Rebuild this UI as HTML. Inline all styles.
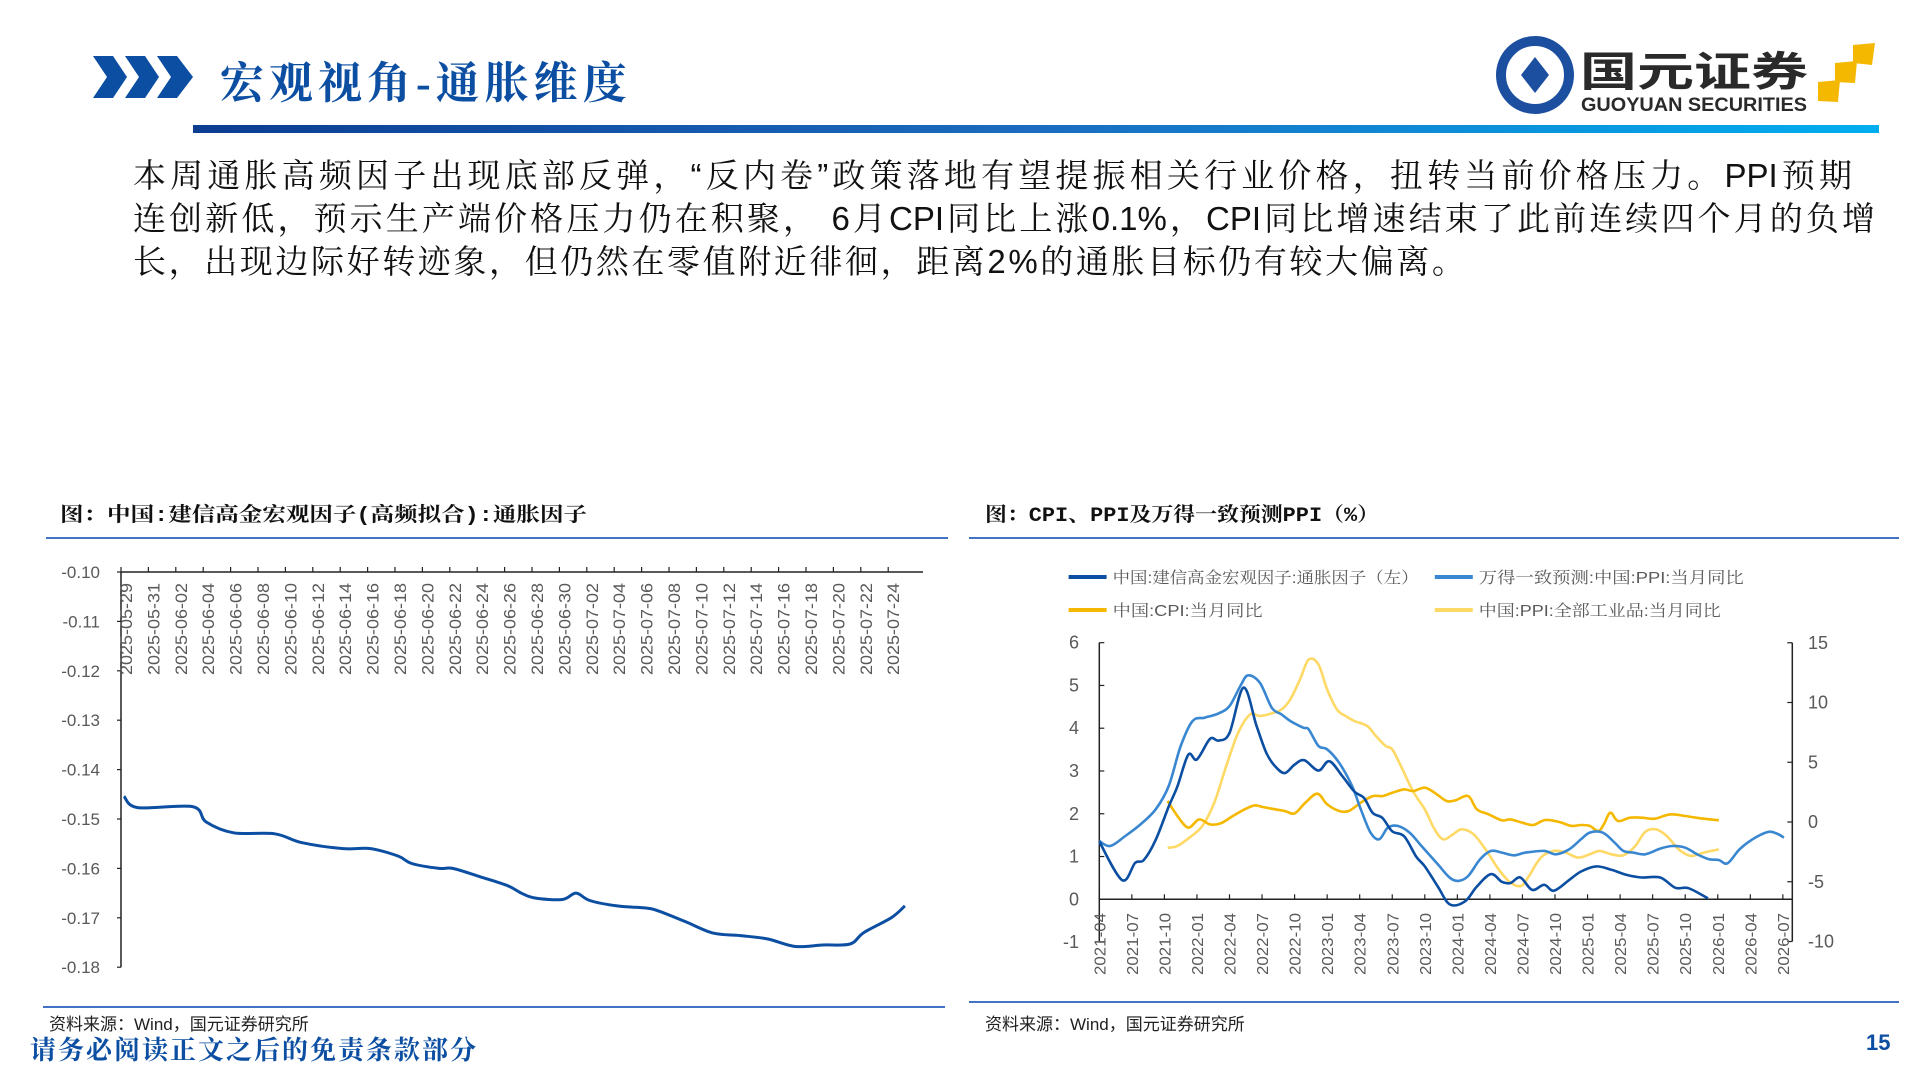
<!DOCTYPE html>
<html><head><meta charset="utf-8">
<style>
body{margin:0;width:1920px;height:1080px;background:#fff;position:relative;overflow:hidden;font-family:"Liberation Sans","Noto Sans CJK SC",sans-serif;}
.abs{position:absolute;}
.para{position:absolute;left:133px;font-family:"Liberation Sans","Noto Serif CJK SC",serif;font-size:33px;color:#111;white-space:nowrap;line-height:43px;}
</style></head><body>
<svg class="abs" style="left:93px;top:56px" width="102" height="42" viewBox="0 0 102 42">
<polygon points="0,0 20,0 34,21 20,42 0,42 14,21" fill="#0b4ea2"/>
<polygon points="32,0 52,0 66,21 52,42 32,42 46,21" fill="#0b4ea2"/>
<polygon points="64,0 84,0 100,21 84,42 64,42 78,21" fill="#0b4ea2"/>
</svg>
<div class="abs" style="left:220px;top:47px;font-size:44px;font-weight:bold;color:#0b4ea2;font-family:'Liberation Serif','Noto Serif CJK SC',serif;letter-spacing:5px">宏观视角-通胀维度</div>
<svg class="abs" style="left:1495px;top:35px" width="390" height="85">
<circle cx="40" cy="40" r="34" fill="none" stroke="#1d4fa0" stroke-width="10"/>
<polygon points="40,22 54,40 40,58 26,40" fill="#1d4fa0"/>
<text x="85" y="51" font-size="41" font-weight="bold" fill="#2a2a2a" font-family="'Noto Sans CJK SC',sans-serif" textLength="228" lengthAdjust="spacingAndGlyphs">国元证券</text>
<text x="86" y="76" font-size="19" font-weight="bold" fill="#2a2a2a" font-family="'Liberation Sans',sans-serif" textLength="226" lengthAdjust="spacingAndGlyphs">GUOYUAN SECURITIES</text>
<polygon points="358,10 380,8 377,30 358,28" fill="#f5b800"/>
<polygon points="340,28 362,26 360,48 340,47" fill="#f5b800"/>
<polygon points="323,47 345,45 343,67 323,66" fill="#f5b800"/>
</svg>
<div class="abs" style="left:193px;top:125px;width:1686px;height:8px;background:linear-gradient(90deg,#0b3d91,#1b6cc0 50%,#00aeef)"></div>

<div class="para" style="top:154px;width:1719px;text-align:justify;text-align-last:justify">本周通胀高频因子出现底部反弹，“反内卷”政策落地有望提振相关行业价格，扭转当前价格压力。PPI预期</div>
<div class="para" style="top:197px;width:1742px;text-align:justify;text-align-last:justify">连创新低，预示生产端价格压力仍在积聚， 6月CPI同比上涨0.1%，CPI同比增速结束了此前连续四个月的负增</div>
<div class="para" style="top:240px;letter-spacing:2.6px">长，出现边际好转迹象，但仍然在零值附近徘徊，距离2%的通胀目标仍有较大偏离。</div>

<svg class="abs" style="left:60px;top:500px" width="560" height="30"><text x="0" y="21" font-size="20" font-weight="bold" fill="#111" font-family="'Liberation Mono','Noto Serif CJK SC',serif" textLength="527" lengthAdjust="spacingAndGlyphs">图：中国:建信高金宏观因子(高频拟合):通胀因子</text></svg>
<div class="abs" style="left:46px;top:537px;width:902px;height:2px;background:#4472c4"></div>
<svg class="abs" style="left:985px;top:500px" width="420" height="30"><text x="0" y="21" font-size="20" font-weight="bold" fill="#111" font-family="'Liberation Mono','Noto Serif CJK SC',serif" textLength="394" lengthAdjust="spacingAndGlyphs">图：CPI、PPI及万得一致预测PPI（%）</text></svg>
<div class="abs" style="left:969px;top:537px;width:930px;height:2px;background:#4472c4"></div>

<div class="abs" style="left:43px;top:1006px;width:902px;height:2px;background:#4472c4"></div>
<div class="abs" style="left:969px;top:1001px;width:930px;height:2px;background:#4472c4"></div>
<div class="abs" style="left:49px;top:1010px;font-size:17px;color:#222">资料来源：Wind，国元证券研究所</div>
<div class="abs" style="left:985px;top:1010px;font-size:17px;color:#222">资料来源：Wind，国元证券研究所</div>
<div class="abs" style="left:30px;top:1030px;font-size:26px;font-weight:bold;color:#0b4ea2;font-family:'Liberation Serif','Noto Serif CJK SC',serif;letter-spacing:2px">请务必阅读正文之后的免责条款部分</div>
<div class="abs" style="left:1866px;top:1030px;font-size:22px;font-weight:bold;color:#0b4ea2">15</div>

<svg id="c1" class="abs" style="left:0;top:0" width="960" height="1000"></svg>
<svg id="c2" class="abs" style="left:960px;top:0" width="960" height="1000"></svg>

<script>
// ---------- Left chart data ----------
const leftDays = [0,1,5,6,8,11,13,16,18,20,21,23,24,26,28,29,30,32,33,34,36,38,39,41,43,45,47,49,51,53,54,56,57];
const leftValues = [-0.1454,-0.1477,-0.1475,-0.1506,-0.1528,-0.1530,-0.1548,-0.1560,-0.1560,-0.1575,-0.1590,-0.1600,-0.1600,-0.1617,-0.1635,-0.1650,-0.1660,-0.1663,-0.1650,-0.1665,-0.1676,-0.1680,-0.1686,-0.1708,-0.1731,-0.1736,-0.1743,-0.1758,-0.1755,-0.1753,-0.1730,-0.1700,-0.1676];
const leftYTicks = [-0.10,-0.11,-0.12,-0.13,-0.14,-0.15,-0.16,-0.17,-0.18];
const leftXLabels = ["2025-05-29","2025-05-31","2025-06-02","2025-06-04","2025-06-06","2025-06-08","2025-06-10","2025-06-12","2025-06-14","2025-06-16","2025-06-18","2025-06-20","2025-06-22","2025-06-24","2025-06-26","2025-06-28","2025-06-30","2025-07-02","2025-07-04","2025-07-06","2025-07-08","2025-07-10","2025-07-12","2025-07-14","2025-07-16","2025-07-18","2025-07-20","2025-07-22","2025-07-24"];

// ---------- Right chart data (month index from 2021-04) ----------
const factorMonths = [0,2.1,3.3,4.1,5.2,6.4,7.2,8.2,9.0,10.2,11.0,12.0,13.3,14.5,15.4,16.2,17.1,18.0,18.9,20.2,21.2,22.4,23.5,24.4,25.2,26.1,27.0,28.1,29.2,30.0,31.2,32.3,33.7,34.8,36.1,37.1,37.9,38.8,39.9,41.0,41.9,43.3,44.4,45.8,47.2,48.6,50.0,51.7,53.1,54.3,56.1];
const factorValues = [1.35,0.45,0.85,0.92,1.39,2.17,2.64,3.38,3.27,3.75,3.71,3.89,4.95,4.05,3.42,3.11,2.95,3.15,3.25,3.01,3.23,2.88,2.52,2.37,2.02,1.90,1.59,1.47,1.00,0.77,0.30,-0.12,-0.05,0.30,0.59,0.41,0.38,0.51,0.22,0.34,0.20,0.45,0.65,0.77,0.69,0.57,0.51,0.51,0.27,0.26,0.02];
const fcstMonths = [0,1.0,2.4,3.8,5.2,6.4,7.5,8.6,9.7,11.0,12.0,13.0,13.7,14.8,15.9,16.8,17.6,18.8,19.3,20.2,21.0,22.1,23.3,24.1,25.0,25.8,26.6,27.5,28.6,29.7,31.2,32.3,33.1,34.0,35.1,36.1,37.1,38.2,39.3,41.0,42.1,43.3,44.4,45.2,46.4,47.5,48.3,49.2,50.3,51.7,52.8,54.0,55.1,56.2,57.1,57.9,59.0,60.2,61.6,62.4,63.1];
const fcstValues = [-1.59,-2.01,-1.17,-0.20,1.06,3.01,6.36,8.45,8.73,9.09,9.70,11.37,12.27,11.65,9.56,9.00,8.45,7.89,7.75,6.36,6.08,4.96,3.01,1.06,-0.89,-1.45,-0.47,-0.33,-0.89,-2.01,-3.54,-4.66,-4.93,-4.52,-3.12,-2.42,-2.56,-2.79,-2.56,-2.42,-2.70,-2.29,-1.45,-0.89,-0.89,-1.73,-2.42,-2.56,-2.70,-2.23,-2.01,-2.15,-2.70,-3.12,-3.18,-3.46,-2.29,-1.45,-0.84,-0.95,-1.31];
const cpiMonths = [6.3,7.2,8.2,9.2,10.2,11.2,12.3,13.4,14.3,15.1,16.2,17.1,18.0,19.0,20.1,21.0,22.1,23.0,24.1,25.2,26.1,27.0,28.1,28.9,30.0,30.9,32.0,32.8,34.0,34.8,35.9,37.1,37.9,39.0,40.0,41.1,42.4,43.5,44.4,45.2,46.0,46.5,47.1,47.8,48.9,50.0,51.2,52.6,54.0,55.4,57.1];
const cpiValues = [1.76,0.50,-0.47,0.22,-0.20,-0.11,0.50,1.06,1.39,1.25,1.06,0.92,0.72,1.62,2.37,1.48,0.92,0.92,1.62,2.17,2.17,2.45,2.73,2.59,2.87,2.45,1.76,1.81,2.17,1.06,0.64,0.14,0.22,-0.06,-0.25,0.17,0.00,-0.33,-0.25,-0.33,-0.75,-0.20,0.78,0.08,0.36,0.36,0.28,0.64,0.50,0.31,0.14];
const ppiMonths = [6.3,7.2,8.3,9.5,10.6,11.7,12.8,13.9,14.8,15.9,16.8,17.6,18.5,19.3,20.2,21.0,21.9,22.7,23.5,24.7,25.5,26.4,27.0,27.8,28.9,30.0,30.9,31.7,32.6,33.4,34.5,35.7,36.8,37.9,38.9,39.6,40.7,41.9,43.0,44.1,45.2,46.1,47.2,48.3,49.4,50.3,51.3,52.3,53.4,54.5,55.7,57.1];
const ppiValues = [-2.15,-2.01,-1.31,-0.33,1.62,4.68,7.47,9.00,8.87,9.09,9.42,10.26,11.93,13.60,13.18,11.10,9.42,8.87,8.45,8.03,7.19,6.36,6.08,4.68,2.59,1.06,-0.61,-1.45,-1.03,-0.61,-1.03,-2.42,-3.96,-5.07,-5.35,-4.52,-2.98,-2.42,-2.56,-2.98,-2.70,-2.42,-2.70,-2.79,-2.01,-0.84,-0.61,-1.17,-2.29,-2.84,-2.56,-2.29];
const leftAxisTicks = [6,5,4,3,2,1,0,-1];
const rightAxisTicks = [15,10,5,0,-5,-10];
const monthLabels = ["2021-04","2021-07","2021-10","2022-01","2022-04","2022-07","2022-10","2023-01","2023-04","2023-07","2023-10","2024-01","2024-04","2024-07","2024-10","2025-01","2025-04","2025-07","2025-10","2026-01","2026-04","2026-07"];

const NS="http://www.w3.org/2000/svg";
function mk(parent,tag,attrs){const e=document.createElementNS(NS,tag);for(const k in attrs)e.setAttribute(k,attrs[k]);parent.appendChild(e);return e;}
function smoothPath(pts){let d="M"+pts[0][0].toFixed(1)+","+pts[0][1].toFixed(1);for(let i=0;i<pts.length-1;i++){const p0=pts[i-1]||pts[i],p1=pts[i],p2=pts[i+1],p3=pts[i+2]||p2;const c1x=p1[0]+(p2[0]-p0[0])/6,c1y=p1[1]+(p2[1]-p0[1])/6,c2x=p2[0]-(p3[0]-p1[0])/6,c2y=p2[1]-(p3[1]-p1[1])/6;d+=" C"+c1x.toFixed(1)+","+c1y.toFixed(1)+" "+c2x.toFixed(1)+","+c2y.toFixed(1)+" "+p2[0].toFixed(1)+","+p2[1].toFixed(1);}return d;}

// ---------- Left chart ----------
(function(){
const s=document.getElementById('c1');
const X0=121, DAY=13.7, Y0=572, PER=4940;
const xs=d=>X0+3+DAY*d, ys=v=>Y0+PER*(-0.10-v);
const ax=mk(s,'line',{x1:X0,y1:Y0,x2:X0,y2:ys(-0.18),stroke:'#222','stroke-width':1.5});


const xa=mk(s,'line',{x1:X0,y1:Y0,x2:923,y2:Y0,stroke:'#222','stroke-width':1.5});


leftYTicks.forEach(v=>{
  const t=mk(s,'text',{x:100,y:ys(v)+6,'text-anchor':'end','font-size':17,fill:'#595959'});
  t.textContent=v.toFixed(2);
  
  
  mk(s,'line',{x1:X0-4,y1:ys(v),x2:X0,y2:ys(v),stroke:'#222','stroke-width':1.2});
});
leftXLabels.forEach((lab,i)=>{
  const x=X0+27.4*i;
  mk(s,'line',{x1:x,y1:Y0-5,x2:x,y2:Y0,stroke:'#222','stroke-width':1.2});
  const t=mk(s,'text',{transform:`translate(${x+11},583) rotate(-90)`,'text-anchor':'end','font-size':17,fill:'#595959',textLength:92,lengthAdjust:'spacingAndGlyphs'});
  t.textContent=lab;
  
  
});
const p=mk(s,'path',{d:smoothPath(leftDays.map((d,i)=>[xs(d),ys(leftValues[i])])),fill:'none',stroke:'#0b4ea2','stroke-width':3});


})();

// ---------- Right chart ----------
(function(){
const s=document.getElementById('c2');
const OX=-960;
const LX=1099.3+OX, RX=1792.3+OX, MW=10.85;
const xm=m=>LX+m*MW;
const yl=v=>899.3-42.77*v;
const yr=v=>822-11.95*v;
const la=mk(s,'line',{x1:LX,y1:yl(6),x2:LX,y2:yl(-1),stroke:'#222','stroke-width':1.5});


const ra=mk(s,'line',{x1:RX,y1:yr(15),x2:RX,y2:yr(-10),stroke:'#222','stroke-width':1.5});


const za=mk(s,'line',{x1:LX,y1:yl(0),x2:RX,y2:yl(0),stroke:'#222','stroke-width':1.5});


leftAxisTicks.forEach(v=>{
  mk(s,'line',{x1:LX,y1:yl(v),x2:LX+5,y2:yl(v),stroke:'#222','stroke-width':1.2});
  const t=mk(s,'text',{x:1079+OX,y:yl(v)+6,'text-anchor':'end','font-size':18,fill:'#595959'});
  t.textContent=v;
  
  
});
rightAxisTicks.forEach(v=>{
  mk(s,'line',{x1:RX-5,y1:yr(v),x2:RX,y2:yr(v),stroke:'#222','stroke-width':1.2});
  const t=mk(s,'text',{x:1808+OX,y:yr(v)+6,'text-anchor':'start','font-size':18,fill:'#595959'});
  t.textContent=v;
  
  
});
monthLabels.forEach((lab,i)=>{
  const x=xm(i*3);
  mk(s,'line',{x1:x,y1:yl(0),x2:x,y2:yl(0)-5,stroke:'#222','stroke-width':1.2});
  const t=mk(s,'text',{transform:`translate(${x+6},913) rotate(-90)`,'text-anchor':'end','font-size':16,fill:'#595959',textLength:62,lengthAdjust:'spacingAndGlyphs'});
  t.textContent=lab;
  
  
});
const ppi=mk(s,'path',{d:smoothPath(ppiMonths.map((m,i)=>[xm(m),yr(ppiValues[i])])),fill:'none',stroke:'#ffd966','stroke-width':2.6});


const cpi=mk(s,'path',{d:smoothPath(cpiMonths.map((m,i)=>[xm(m),yr(cpiValues[i])])),fill:'none',stroke:'#f5b800','stroke-width':2.6});


const fc=mk(s,'path',{d:smoothPath(fcstMonths.map((m,i)=>[xm(m),yr(fcstValues[i])])),fill:'none',stroke:'#3a87d1','stroke-width':2.6});


const fa=mk(s,'path',{d:smoothPath(factorMonths.map((m,i)=>[xm(m),yl(factorValues[i])])),fill:'none',stroke:'#0b4ea2','stroke-width':2.6});


// legend
const legend=[["中国:建信高金宏观因子:通胀因子（左）","#0b4ea2",1068.6,577,306],["万得一致预测:中国:PPI:当月同比","#3a87d1",1434.8,577,265],["中国:CPI:当月同比","#f5b800",1068.6,610,150],["中国:PPI:全部工业品:当月同比","#ffd966",1434.8,610,242]];
legend.forEach(l=>{
  const g=mk(s,'g',{});
  
  
  mk(g,'line',{x1:l[2]+OX,y1:l[3],x2:l[2]+38+OX,y2:l[3],stroke:l[1],'stroke-width':4});
  const t=mk(g,'text',{x:l[2]+44+OX,y:l[3]+6,'font-size':16,fill:'#595959',textLength:l[4],lengthAdjust:'spacingAndGlyphs','font-family':"'Liberation Sans','Noto Serif CJK SC',serif"});
  t.textContent=l[0];
});
})();
</script>
</body></html>
